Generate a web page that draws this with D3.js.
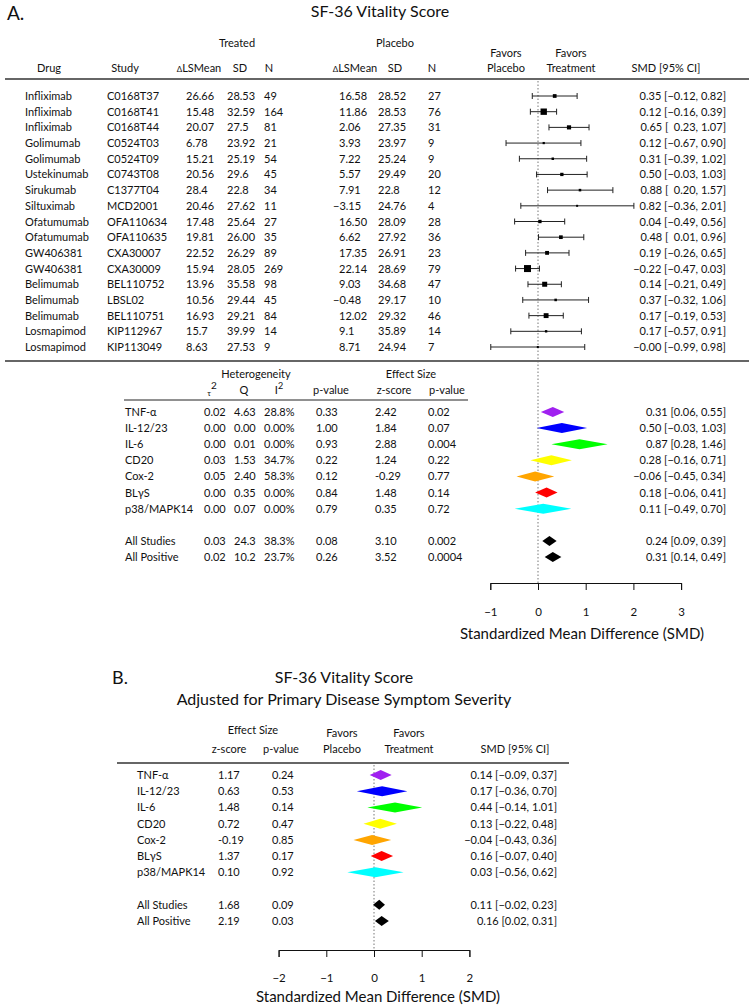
<!DOCTYPE html>
<html>
<head>
<meta charset="utf-8">
<script src="https://cdn.jsdelivr.net/npm/d3@7"></script>
<style>
  body { margin: 0; background: #fff; }
  svg { font-family: "Lato", "DejaVu Sans", sans-serif; fill: #111; }
  .hdr { font-size: 11px; }
  .cell { font-size: 11px; }
  .title { font-size: 16px; }
  .axis text { font-size: 11.5px; font-family: "Lato", sans-serif; }
  .axlab { font-size: 15px; }
</style>
</head>
<body>
<svg id="chart" width="749" height="1005"></svg>
<script>
// ---- study level data (panel A) ----
const drugs = ['Infliximab', 'Infliximab', 'Infliximab', 'Golimumab', 'Golimumab', 'Ustekinumab', 'Sirukumab', 'Siltuximab',
  'Ofatumumab', 'Ofatumumab', 'GW406381', 'GW406381', 'Belimumab', 'Belimumab', 'Belimumab', 'Losmapimod', 'Losmapimod'];
const studies = ['C0168T37', 'C0168T41', 'C0168T44', 'C0524T03', 'C0524T09', 'C0743T08', 'C1377T04', 'MCD2001',
  'OFA110634', 'OFA110635', 'CXA30007', 'CXA30009', 'BEL110752', 'LBSL02', 'BEL110751', 'KIP112967', 'KIP113049'];
const trtMean = ['26.66', '15.48', '20.07', '6.78', '15.21', '20.56', '28.4', '20.46', '17.48', '19.81', '22.52', '15.94', '13.96', '10.56', '16.93', '15.7', '8.63'];
const trtSD = ['28.53', '32.59', '27.5', '23.92', '25.19', '29.6', '22.8', '27.62', '25.64', '26.00', '26.29', '28.05', '35.58', '29.44', '29.21', '39.99', '27.53'];
const trtN = ['49', '164', '81', '21', '54', '45', '34', '11', '27', '35', '89', '269', '98', '45', '84', '14', '9'];
const pboMean = ['16.58', '11.86', '2.06', '3.93', '7.22', '5.57', '7.91', '\u22123.15', '16.50', '6.62', '17.35', '22.14', '9.03', '\u22120.48', '12.02', '9.1', '8.71'];
const pboSD = ['28.52', '28.53', '27.35', '23.97', '25.24', '29.49', '22.8', '24.76', '28.09', '27.92', '26.91', '28.69', '34.68', '29.17', '29.32', '35.89', '24.94'];
const pboN = ['27', '76', '31', '9', '9', '20', '12', '4', '28', '36', '23', '79', '47', '10', '46', '14', '7'];
const smd = [0.35, 0.12, 0.65, 0.12, 0.31, 0.50, 0.88, 0.82, 0.04, 0.48, 0.19, -0.22, 0.14, 0.37, 0.17, 0.17, -0.004];
const smdLo = [-0.12, -0.16, 0.23, -0.67, -0.39, -0.03, 0.20, -0.36, -0.49, 0.01, -0.26, -0.47, -0.21, -0.32, -0.19, -0.57, -0.99];
const smdHi = [0.82, 0.39, 1.07, 0.90, 1.02, 1.03, 1.57, 2.01, 0.56, 0.96, 0.65, 0.03, 0.49, 1.06, 0.53, 0.91, 0.98];

// ---- pooled rows (7 targets + all studies + all positive) ----
const groups = ['TNF-\u03b1', 'IL-12/23', 'IL-6', 'CD20', 'Cox-2', 'BL\u03b3S', 'p38/MAPK14', 'All Studies', 'All Positive'];
const groupColors = ['#a020f0', '#0000ff', '#00ff00', '#ffff00', '#ffa500', '#ff0000', '#00ffff', '#000000', '#000000'];
const tau2 = ['0.02', '0.00', '0.00', '0.03', '0.05', '0.00', '0.00', '0.03', '0.02'];
const hetQ = ['4.63', '0.00', '0.01', '1.53', '2.40', '0.35', '0.07', '24.3', '10.2'];
const hetI2 = ['28.8%', '0.00%', '0.00%', '34.7%', '58.3%', '0.00%', '0.00%', '38.3%', '23.7%'];
const hetP = ['0.33', '1.00', '0.93', '0.22', '0.12', '0.84', '0.79', '0.08', '0.26'];
const zA = ['2.42', '1.84', '2.88', '1.24', '-0.29', '1.48', '0.35', '3.10', '3.52'];
const pA = ['0.02', '0.07', '0.004', '0.22', '0.77', '0.14', '0.72', '0.002', '0.0004'];
const estA = [0.31, 0.50, 0.87, 0.28, -0.06, 0.18, 0.11, 0.24, 0.31];
const loA = [0.06, -0.03, 0.28, -0.16, -0.45, -0.06, -0.49, 0.09, 0.14];
const hiA = [0.55, 1.03, 1.46, 0.71, 0.34, 0.41, 0.70, 0.39, 0.49];

// ---- panel B (adjusted) ----
const zB = ['1.17', '0.63', '1.48', '0.72', '-0.19', '1.37', '0.10', '1.68', '2.19'];
const pB = ['0.24', '0.53', '0.14', '0.47', '0.85', '0.17', '0.92', '0.09', '0.03'];
const estB = [0.14, 0.17, 0.44, 0.13, -0.04, 0.16, 0.03, 0.11, 0.16];
const loB = [-0.09, -0.36, -0.14, -0.22, -0.43, -0.07, -0.56, -0.02, 0.02];
const hiB = [0.37, 0.70, 1.01, 0.48, 0.36, 0.40, 0.62, 0.23, 0.31];

const ticksA = [-1, 0, 1, 2, 3];
const ticksB = [-2, -1, 0, 1, 2];

// row slots for pooled rows (gap before the overall rows)
const slots = [0, 1, 2, 3, 4, 5, 6, 8, 9];

const svg = d3.select('#chart');

const fmt = v => (v < 0 ? '\u2212' : '') + Math.abs(v).toFixed(2);
const ciStudy = (m, l, h) => `${fmt(m)} [${l >= 0 ? '\u2002' : ''}${fmt(l)}, ${fmt(h)}]`;
const ciPlain = (m, l, h) => `${fmt(m)} [${fmt(l)}, ${fmt(h)}]`;

const txt = (g, x, y, s, anchor, cls) => g.append('text')
  .attr('x', x).attr('y', y)
  .attr('text-anchor', anchor || 'start')
  .attr('class', cls || 'cell')
  .text(s);

// diamond path for pooled estimates
const diamond = (x, y, est, lo, hi, h) =>
  `M${x(lo)},${y} L${x(est)},${y - h} L${x(hi)},${y} L${x(est)},${y + h} Z`;

// superscript helper for tau^2 and I^2
const supHeader = (g, x, y, base, small) => {
  const t = g.append('text').attr('x', x).attr('y', y).attr('text-anchor', 'middle').attr('class', 'hdr');
  if (small) {
    t.append('tspan').attr('font-size', 8).attr('dy', 2).text(base);
    t.append('tspan').attr('font-size', 10).attr('dy', -7).text('2');
  } else {
    t.append('tspan').text(base);
    t.append('tspan').attr('font-size', 9).attr('dy', -5).text('2');
  }
};

const deltaHeader = (g, x, y) => {
  const t = g.append('text').attr('x', x).attr('y', y).attr('text-anchor', 'middle').attr('class', 'hdr');
  t.append('tspan').attr('font-size', 8).text('\u0394');
  t.append('tspan').text('LSMean');
};

const drawAxis = (g, x, y, ticks, pad) => {
  const ax = g.append('g').attr('class', 'axis')
    .attr('transform', `translate(0,${y})`)
    .call(d3.axisBottom(x).tickValues(ticks).tickFormat(d3.format('d'))
      .tickSize(7).tickSizeOuter(7).tickPadding(pad));
  ax.selectAll('line, path').attr('stroke', '#111');
  ax.selectAll('text').attr('fill', '#111');
};

// ================= PANEL A =================
const gA = svg.append('g');
const xA = d3.scaleLinear().domain([-1, 3]).range([490.3, 681.1]);
const yStudy = d3.scaleLinear().domain([0, studies.length - 1]).range([96, 347]);
const yPoolA = d3.scaleLinear().domain([0, 9]).range([412, 557]);
const axisYA = 583;

gA.append('text').attr('x', 7).attr('y', 20).attr('font-size', 19).text('A.');
txt(gA, 380, 17, 'SF-36 Vitality Score', 'middle', 'title');

txt(gA, 237, 47, 'Treated', 'middle', 'hdr');
txt(gA, 395, 47, 'Placebo', 'middle', 'hdr');
txt(gA, 506, 57, 'Favors', 'middle', 'hdr');
txt(gA, 506, 72, 'Placebo', 'middle', 'hdr');
txt(gA, 571, 57, 'Favors', 'middle', 'hdr');
txt(gA, 571, 72, 'Treatment', 'middle', 'hdr');
txt(gA, 49, 72, 'Drug', 'middle', 'hdr');
txt(gA, 125, 72, 'Study', 'middle', 'hdr');
deltaHeader(gA, 199, 72);
txt(gA, 240, 72, 'SD', 'middle', 'hdr');
txt(gA, 269, 72, 'N', 'middle', 'hdr');
deltaHeader(gA, 355, 72);
txt(gA, 395, 72, 'SD', 'middle', 'hdr');
txt(gA, 432, 72, 'N', 'middle', 'hdr');
txt(gA, 666, 72, 'SMD [95% CI]', 'middle', 'hdr');

gA.append('line').attr('x1', 5).attr('x2', 749).attr('y1', 79).attr('y2', 79)
  .attr('stroke', '#666').attr('stroke-width', 1.8);

// zero reference line
gA.append('line').attr('x1', xA(0)).attr('x2', xA(0)).attr('y1', 81).attr('y2', axisYA)
  .attr('stroke', '#777').attr('stroke-dasharray', '1.5,2');

// study table
const cols = [
  { x: 25, v: drugs }, { x: 107, v: studies }, { x: 186, v: trtMean }, { x: 227, v: trtSD },
  { x: 264, v: trtN }, { x: 339, v: pboMean }, { x: 378, v: pboSD }, { x: 428, v: pboN }
];
cols.forEach(c => {
  gA.selectAll(null).data(c.v).enter().append('text')
    .attr('class', 'cell')
    .attr('x', d => c.x - (d.startsWith('\u2212') ? 6 : 0))
    .attr('y', (d, i) => yStudy(i) + 4)
    .text(d => d);
});

// square size from inverse-variance weights
const weights = smd.map((d, i) => 1 / Math.pow((smdHi[i] - smdLo[i]) / 3.92, 2));
const boxSize = d3.scaleSqrt().domain([0, d3.max(weights)]).range([0, 7]);
const side = i => Math.max(2, boxSize(weights[i]));

const rows = gA.selectAll('.study').data(smd).enter().append('g').attr('class', 'study');
rows.append('line')
  .attr('x1', (d, i) => xA(smdLo[i])).attr('x2', (d, i) => xA(smdHi[i]))
  .attr('y1', (d, i) => yStudy(i)).attr('y2', (d, i) => yStudy(i))
  .attr('stroke', '#222');
[smdLo, smdHi].forEach(arr => {
  rows.append('line')
    .attr('x1', (d, i) => xA(arr[i])).attr('x2', (d, i) => xA(arr[i]))
    .attr('y1', (d, i) => yStudy(i) - 3).attr('y2', (d, i) => yStudy(i) + 3)
    .attr('stroke', '#222');
});
rows.append('rect')
  .attr('x', (d, i) => xA(d) - side(i) / 2)
  .attr('y', (d, i) => yStudy(i) - side(i) / 2)
  .attr('width', (d, i) => side(i))
  .attr('height', (d, i) => side(i))
  .attr('fill', '#000');
rows.append('text')
  .attr('class', 'cell')
  .attr('x', 726).attr('y', (d, i) => yStudy(i) + 4)
  .attr('text-anchor', 'end')
  .text((d, i) => ciStudy(d, smdLo[i], smdHi[i]));

gA.append('line').attr('x1', 5).attr('x2', 749).attr('y1', 361).attr('y2', 361)
  .attr('stroke', '#666').attr('stroke-width', 1.8);

// heterogeneity table
txt(gA, 256, 378, 'Heterogeneity', 'middle', 'hdr');
txt(gA, 411, 378, 'Effect Size', 'middle', 'hdr');
supHeader(gA, 212, 394, '\u03c4', true);
txt(gA, 244, 394, 'Q', 'middle', 'hdr');
supHeader(gA, 279, 394, 'I', false);
txt(gA, 331, 394, 'p-value', 'middle', 'hdr');
txt(gA, 394, 394, 'z-score', 'middle', 'hdr');
txt(gA, 447, 394, 'p-value', 'middle', 'hdr');
gA.append('line').attr('x1', 124).attr('x2', 468).attr('y1', 400).attr('y2', 400)
  .attr('stroke', '#222');

const poolColsA = [
  { x: 125, v: groups }, { x: 204, v: tau2 }, { x: 234, v: hetQ }, { x: 264, v: hetI2 },
  { x: 316, v: hetP }, { x: 375, v: zA }, { x: 428, v: pA }
];
poolColsA.forEach(c => {
  gA.selectAll(null).data(c.v).enter().append('text')
    .attr('class', 'cell')
    .attr('x', c.x)
    .attr('y', (d, i) => yPoolA(slots[i]) + 4)
    .text(d => d);
});

gA.selectAll('.poolA').data(estA).enter().append('path')
  .attr('class', 'poolA')
  .attr('d', (d, i) => diamond(xA, yPoolA(slots[i]), d, loA[i], hiA[i], 5))
  .attr('fill', (d, i) => groupColors[i]);
gA.selectAll('.ciA').data(estA).enter().append('text')
  .attr('class', 'cell')
  .attr('x', 726).attr('y', (d, i) => yPoolA(slots[i]) + 4)
  .attr('text-anchor', 'end')
  .text((d, i) => ciPlain(d, loA[i], hiA[i]));

drawAxis(gA, xA, axisYA, ticksA, 18);
txt(gA, 582, 639, 'Standardized Mean Difference (SMD)', 'middle', 'axlab');

// ================= PANEL B =================
const gB = svg.append('g');
const xB = d3.scaleLinear().domain([-2, 2]).range([278.6, 469.4]);
const yPoolB = d3.scaleLinear().domain([0, 9]).range([775, 921]);
const axisYB = 950;

gB.append('text').attr('x', 112).attr('y', 684).attr('font-size', 18).text('B.');
txt(gB, 344, 683, 'SF-36 Vitality Score', 'middle', 'title');
txt(gB, 344, 705, 'Adjusted for Primary Disease Symptom Severity', 'middle', 'title');

txt(gB, 253, 734, 'Effect Size', 'middle', 'hdr');
txt(gB, 229, 753, 'z-score', 'middle', 'hdr');
txt(gB, 281, 753, 'p-value', 'middle', 'hdr');
txt(gB, 342, 737, 'Favors', 'middle', 'hdr');
txt(gB, 342, 753, 'Placebo', 'middle', 'hdr');
txt(gB, 409, 737, 'Favors', 'middle', 'hdr');
txt(gB, 409, 753, 'Treatment', 'middle', 'hdr');
txt(gB, 515, 753, 'SMD [95% CI]', 'middle', 'hdr');

gB.append('line').attr('x1', 117).attr('x2', 569).attr('y1', 763).attr('y2', 763)
  .attr('stroke', '#666').attr('stroke-width', 1.8);
gB.append('line').attr('x1', xB(0)).attr('x2', xB(0)).attr('y1', 765).attr('y2', axisYB)
  .attr('stroke', '#777').attr('stroke-dasharray', '1.5,2');

const poolColsB = [{ x: 137, v: groups }, { x: 218, v: zB }, { x: 272, v: pB }];
poolColsB.forEach(c => {
  gB.selectAll(null).data(c.v).enter().append('text')
    .attr('class', 'cell')
    .attr('x', c.x)
    .attr('y', (d, i) => yPoolB(slots[i]) + 4)
    .text(d => d);
});

gB.selectAll('.poolB').data(estB).enter().append('path')
  .attr('class', 'poolB')
  .attr('d', (d, i) => diamond(xB, yPoolB(slots[i]), d, loB[i], hiB[i], 5))
  .attr('fill', (d, i) => groupColors[i]);
gB.selectAll('.ciB').data(estB).enter().append('text')
  .attr('class', 'cell')
  .attr('x', 557).attr('y', (d, i) => yPoolB(slots[i]) + 4)
  .attr('text-anchor', 'end')
  .text((d, i) => ciPlain(d, loB[i], hiB[i]));

drawAxis(gB, xB, axisYB, ticksB, 17);
txt(gB, 378, 1002, 'Standardized Mean Difference (SMD)', 'middle', 'axlab');
</script>
</body>
</html>
